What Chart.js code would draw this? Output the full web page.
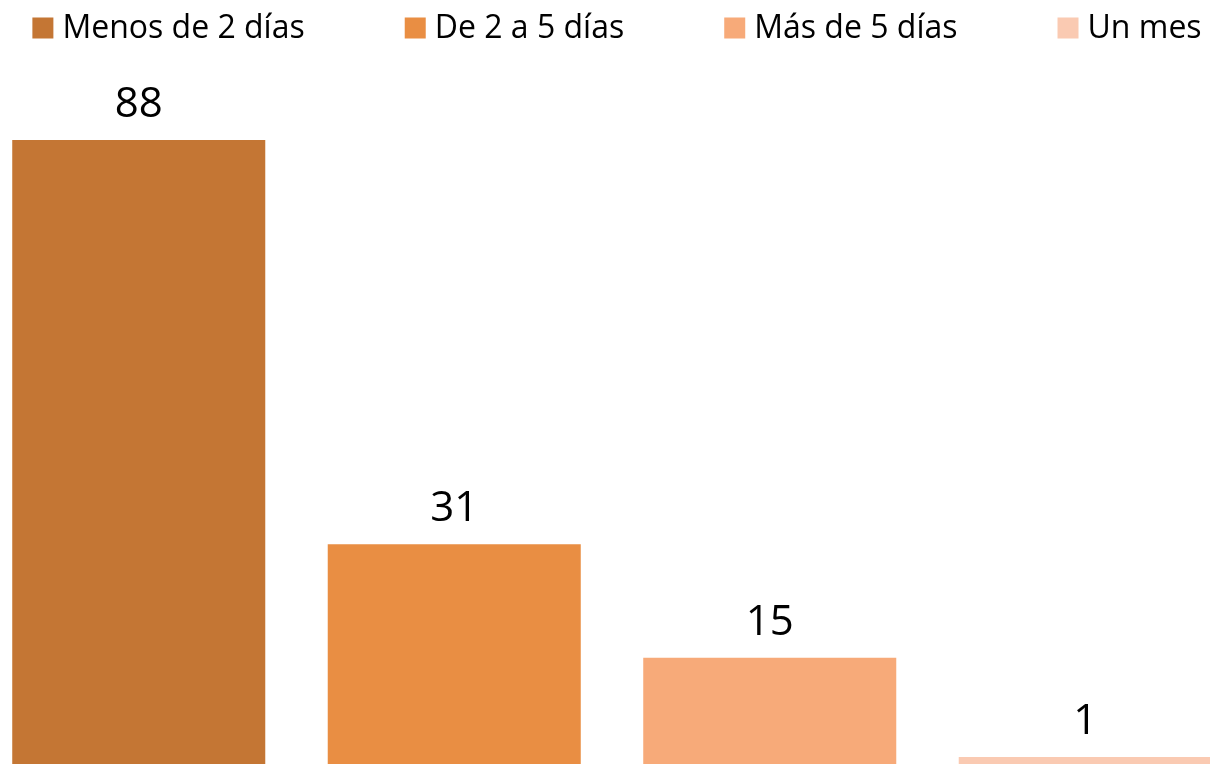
<!DOCTYPE html>
<html>
<head>
<meta charset="utf-8">
<script src="https://cdn.jsdelivr.net/npm/chart.js@4"></script>
<style>
  html, body { margin: 0; padding: 0; background: #fff; overflow: hidden; }
  #wrap { position: absolute; left: -19px; top: 0; width: 1262px; height: 764px; }
</style>
</head>
<body>
<div id="wrap"><canvas id="grafico"></canvas></div>
<script>
// Categorías y valores
const categorias = ['Menos de 2 días', 'De 2 a 5 días', 'Más de 5 días', 'Un mes'];
const valores = [88, 31, 15, 1];
const colores = ['#C47634', '#E98E43', '#F7AA79', '#FACAB2'];

// Un dataset por categoría (igual que una leyenda por serie)
const datasets = categorias.map((cat, i) => ({
    label: cat,
    data: categorias.map((c, j) => (j === i ? valores[i] : null)),
    backgroundColor: colores[i],
    borderWidth: 0,
    barPercentage: 0.802,
    categoryPercentage: 1
}));

// Etiquetas encima de cada barra
const etiquetas = {
    id: 'etiquetas',
    afterDatasetsDraw(chart) {
        const ctx = chart.ctx;
        ctx.save();
        ctx.font = '42px "Open Sans"';
        ctx.fillStyle = '#000';
        ctx.textAlign = 'center';
        ctx.textBaseline = 'bottom';
        chart.data.datasets.forEach((ds, i) => {
            const bar = chart.getDatasetMeta(i).data[i];
            ctx.fillText(String(valores[i]), bar.x, bar.y - 14);
        });
        ctx.restore();
    }
};

// Leyenda dibujada a mano, con separación amplia entre elementos
const leyenda = {
    id: 'leyenda',
    afterDraw(chart) {
        const ctx = chart.ctx;
        const caja = 21, hueco = 9, sep = 100, yCentro = 28;
        ctx.save();
        ctx.font = '32px "Open Sans"';
        ctx.textBaseline = 'middle';
        const anchos = chart.data.datasets.map(ds => caja + hueco + ctx.measureText(ds.label).width);
        const total = anchos.reduce((a, b) => a + b, 0) + sep * (anchos.length - 1);
        let x = 19 + 617 - total / 2;
        chart.data.datasets.forEach((ds, i) => {
            ctx.fillStyle = ds.backgroundColor;
            ctx.fillRect(x, yCentro - caja / 2, caja, caja);
            ctx.fillStyle = '#000';
            ctx.fillText(ds.label, x + caja + hueco, yCentro + 1);
            x += anchos[i] + sep;
        });
        ctx.restore();
    }
};

new Chart(document.getElementById('grafico'), {
    type: 'bar',
    data: { labels: categorias, datasets: datasets },
    options: {
        responsive: true,
        maintainAspectRatio: false,
        animation: false,
        skipNull: true,
        layout: { padding: { top: 55, left: 0, right: 0, bottom: 0 } },
        plugins: {
            legend: { display: false },
            tooltip: { enabled: false }
        },
        scales: {
            x: { display: false },
            y: { display: false, beginAtZero: true, max: 100 }
        }
    },
    plugins: [etiquetas, leyenda]
});
</script>
</body>
</html>
